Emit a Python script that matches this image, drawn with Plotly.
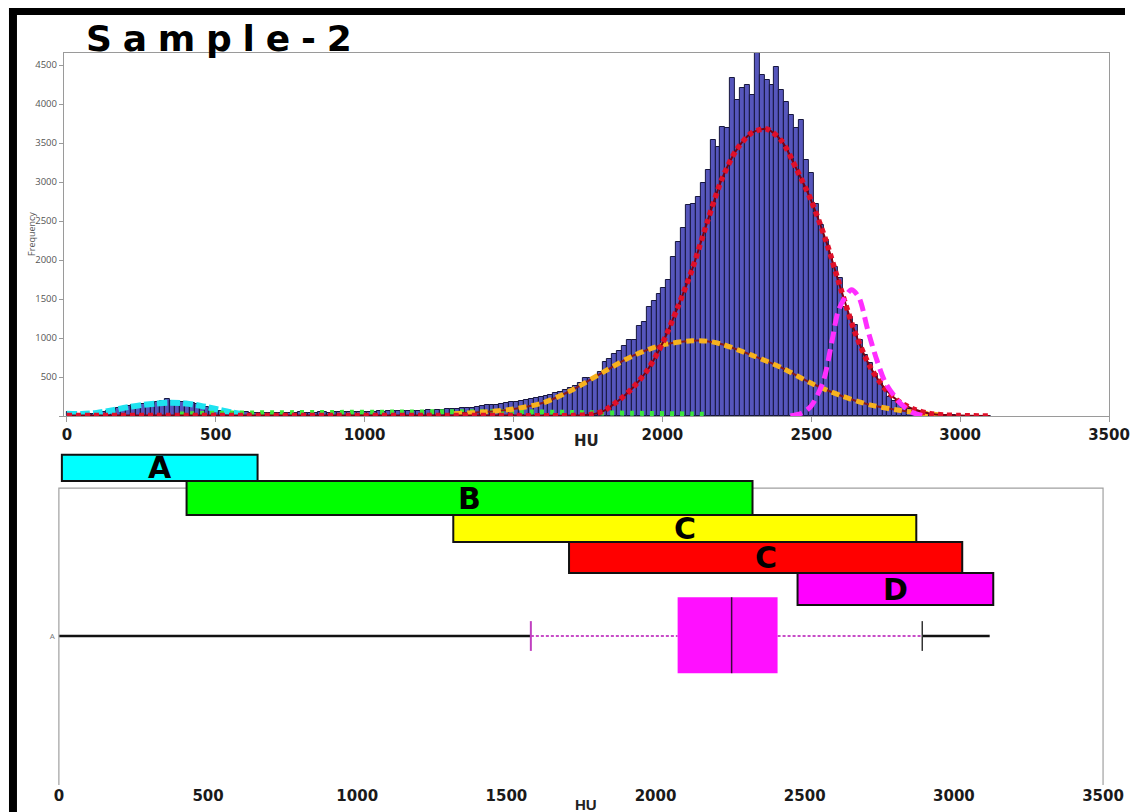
import plotly.graph_objects as go

W, H = 1146, 812
# the page renders the figure about 1125 px wide; horizontal layout positions use that width
W_EFF = 1125

# ---------------- data ----------------
BIN_WIDTH = 16.5          # HU per histogram bin (bins start at 0 HU)
counts = [
    55, 22, 18, 20, 24, 28, 35, 45, 60, 75,
    100, 115, 125, 138, 145, 158, 165, 172, 184, 190,
    214, 195, 186, 180, 184, 168, 152, 128, 110, 80,
    70, 64, 55, 48, 45, 40, 45, 40, 38, 42,
    40, 38, 40, 42, 38, 40, 42, 45, 40, 44,
    42, 45, 48, 44, 46, 50, 48, 52, 50, 55,
    52, 56, 54, 58, 56, 60, 58, 62, 60, 65,
    62, 68, 66, 72, 70, 78, 75, 85, 90, 95,
    100, 100, 104, 112, 125, 140, 138, 146, 150, 165,
    178, 186, 192, 204, 215, 232, 248, 256, 269, 290,
    312, 332, 355, 380, 420, 483, 485, 500, 560, 690,
    730, 800, 830, 900, 980, 975, 1160, 1200, 1400, 1480,
    1560, 1640, 1750, 2040, 2235, 2410, 2705, 2725, 2810, 2985,
    3155, 3540, 3455, 3710, 3690, 4330, 4050, 4200, 4245, 4115,
    4650, 4370, 4310, 4245, 4470, 4180, 4030, 3860, 3690, 3800,
    3280, 3110, 2725, 2450, 2255, 2045, 1915, 1765, 1400, 1275,
    1165, 975, 780, 675, 545, 420, 360, 250, 190, 150,
    110, 85, 65, 48, 36, 28, 20, 15, 12, 9,
    7, 6, 5, 4, 3, 2, 2, 1,
]

# fitted component curves (HU, frequency)
red_hu = [0, 300, 600, 900, 1200, 1500, 1700, 1760, 1800, 1850, 1900, 1950, 2000, 2050,
          2100, 2150, 2200, 2250, 2300, 2350, 2400, 2450, 2500, 2550, 2600, 2650, 2700,
          2750, 2800, 2850, 2900, 2950, 3000, 3100]
red_val = [8, 6, 5, 5, 5, 5, 5, 20, 60, 190, 360, 590, 930, 1380,
           1880, 2480, 3040, 3420, 3630, 3680, 3530, 3170, 2760, 2240, 1620, 1040, 615,
           340, 170, 80, 30, 12, 5, 0]

orange_hu = [1300, 1400, 1500, 1600, 1700, 1800, 1900, 2000, 2100, 2150, 2200, 2300,
             2400, 2500, 2600, 2700, 2800, 2900, 2950]
orange_val = [30, 50, 90, 170, 340, 560, 770, 910, 965, 960, 920, 780,
              620, 420, 260, 140, 70, 25, 10]

green_hu = [380, 500, 700, 900, 1100, 1300, 1500, 1700, 1900, 2100, 2150]
green_val = [25, 35, 42, 46, 50, 55, 55, 45, 35, 25, 20]

cyan_hu = [0, 50, 100, 150, 200, 250, 300, 350, 400, 450, 500, 550, 600]
cyan_val = [30, 25, 40, 70, 110, 140, 160, 170, 160, 130, 90, 50, 20]

magenta_hu = [2430, 2470, 2500, 2540, 2570, 2590, 2610, 2635, 2660, 2690, 2720, 2750,
              2800, 2840, 2880]
magenta_val = [0, 40, 130, 440, 970, 1340, 1500, 1620, 1520, 1100, 720, 420,
               160, 45, 0]

# HU ranges of the phases
band_names = ["A", "B", "C", "C", "D"]
band_start = [10, 428, 1322, 1710, 2476]
band_end = [666, 2325, 2874, 3028, 3132]

# box plot summary (HU)
bp_min, bp_lo, bp_q1, bp_med, bp_q3, bp_hi, bp_max = 0, 1582, 2074, 2255, 2409, 2894, 3120

x_ticks = [0, 500, 1000, 1500, 2000, 2500, 3000, 3500]
y_ticks = [0, 500, 1000, 1500, 2000, 2500, 3000, 3500, 4000, 4500]

title_text = "Sample-2"

# ---------------- styles / layout positions ----------------
band_colors = ["#00FFFF", "#00FF00", "#FFFF00", "#FF0000", "#FF00FF"]
band_rows = [(5.0, 5.85), (3.9, 5.0), (3.03, 3.9), (2.03, 3.03), (1.0, 2.03)]
FRAME_TOP = 4.77
Y2_RANGE = [-4.806, 6.0]


def fx(p):
    return min(p / W_EFF, 1.0)


def fy(p):
    return 1 - p / H


bin_centers = [BIN_WIDTH * (i + 0.5) for i in range(len(counts))]

fig = go.Figure()

# histogram
fig.add_trace(go.Bar(
    x=bin_centers, y=counts, width=BIN_WIDTH,
    marker=dict(color="#5656BC", line=dict(color="#17173F", width=1)),
    xaxis="x", yaxis="y", hoverinfo="skip",
))


def curve(xs, ys, color, width, dash, under=None):
    if under:
        fig.add_trace(go.Scatter(x=xs, y=ys, mode="lines",
                                 line=dict(color=under, width=2, shape="spline", smoothing=0.8),
                                 xaxis="x", yaxis="y", hoverinfo="skip"))
    fig.add_trace(go.Scatter(x=xs, y=ys, mode="lines",
                             line=dict(color=color, width=width, dash=dash, shape="spline",
                                       smoothing=0.8),
                             xaxis="x", yaxis="y", hoverinfo="skip"))


curve(cyan_hu, cyan_val, "#1EE3F0", 6, "10px,3px")
curve(green_hu, green_val, "#3BE53B", 5, "4px,6px")
curve(orange_hu, orange_val, "#F7B21E", 5, "8px,5px", under="#8B1A1A")
curve(red_hu, red_val, "#E0102A", 5.5, "5px,4px", under="#7A0010")
curve(magenta_hu, magenta_val, "#FF2EFF", 5, "12px,6px")

# ---------------- bottom panel ----------------
fig.add_trace(go.Scatter(x=[bp_min, bp_lo], y=[0, 0], mode="lines",
                         line=dict(color="#111111", width=2.5),
                         xaxis="x2", yaxis="y2", hoverinfo="skip"))
fig.add_trace(go.Scatter(x=[bp_hi, bp_max], y=[0, 0], mode="lines",
                         line=dict(color="#111111", width=2.5),
                         xaxis="x2", yaxis="y2", hoverinfo="skip"))
for a, b in [(bp_lo, bp_q1), (bp_q3, bp_hi)]:
    fig.add_trace(go.Scatter(x=[a, b], y=[0, 0], mode="lines",
                             line=dict(color="#C74DC7", width=2, dash="3px,2px"),
                             xaxis="x2", yaxis="y2", hoverinfo="skip"))

shapes = []
# black image border
shapes.append(dict(type="rect", xref="paper", yref="paper", x0=fx(7), x1=fx(15),
                   y0=0, y1=fy(8), fillcolor="black", line=dict(width=0), layer="above"))
shapes.append(dict(type="rect", xref="paper", yref="paper", x0=fx(7), x1=1,
                   y0=fy(15), y1=fy(8), fillcolor="black", line=dict(width=0), layer="above"))
# bottom frame (open at the bottom)
shapes.append(dict(type="path", xref="x2", yref="y2",
                   path=f"M 0,{Y2_RANGE[0]} L 0,{FRAME_TOP} L 3500,{FRAME_TOP} L 3500,{Y2_RANGE[0]}",
                   line=dict(color="#A0A0A0", width=1.2)))
# box
shapes.append(dict(type="rect", xref="x2", yref="y2", x0=bp_q1, x1=bp_q3, y0=-1.2, y1=1.25,
                   fillcolor="#FF10FF", line=dict(width=0)))
shapes.append(dict(type="line", xref="x2", yref="y2", x0=bp_med, x1=bp_med, y0=-1.2, y1=1.25,
                   line=dict(color="#3A0A3A", width=1.5)))
shapes.append(dict(type="line", xref="x2", yref="y2", x0=bp_lo, x1=bp_lo, y0=-0.48, y1=0.48,
                   line=dict(color="#C040C0", width=2)))
shapes.append(dict(type="line", xref="x2", yref="y2", x0=bp_hi, x1=bp_hi, y0=-0.48, y1=0.48,
                   line=dict(color="#333333", width=1.5)))
# phase bands
annotations = []
for name, s, e, c, (r0, r1) in zip(band_names, band_start, band_end, band_colors, band_rows):
    shapes.append(dict(type="rect", xref="x2", yref="y2", x0=s, x1=e, y0=r0, y1=r1,
                       fillcolor=c, line=dict(color="#111111", width=2), layer="above"))
    annotations.append(dict(xref="x2", yref="y2", x=(s + e) / 2, y=(r0 + r1) / 2,
                            xanchor="center", yanchor="middle",
                            text=name, showarrow=False,
                            font=dict(family="DejaVu Sans", size=30, color="black", weight="bold")))

# letter-spaced title (thin + hair spaces) to mimic the wide lettering
spaced_title = "\u2009\u200a".join(title_text)

annotations += [
    dict(xref="paper", yref="paper", x=fx(82), y=fy(61), xanchor="left", yanchor="bottom",
         text=spaced_title, showarrow=False,
         font=dict(family="DejaVu Sans", size=36, color="black", weight="bold")),
    dict(xref="paper", yref="paper", x=fx(30), y=fy(234), xanchor="center", yanchor="middle",
         text="Frequency", textangle=-90,
         showarrow=False, font=dict(family="Open Sans", size=9, color="#555555")),
    dict(xref="x domain", yref="paper", x=0.5, y=fy(441), xanchor="center", yanchor="middle",
         text="HU", showarrow=False,
         font=dict(family="DejaVu Sans", size=15, color="#222222", weight="bold")),
    dict(xref="x2 domain", yref="paper", x=0.505, y=fy(804), xanchor="center", yanchor="middle",
         text="HU", showarrow=False,
         font=dict(family="Liberation Sans", size=15, color="#222222", weight="bold")),
]

fig.update_layout(
    width=W, height=H, margin=dict(l=0, r=0, t=0, b=0),
    paper_bgcolor="white", plot_bgcolor="white", showlegend=False,
    bargap=0, shapes=shapes, annotations=annotations,
    xaxis=dict(domain=[fx(62), fx(1109)], range=[-10, 3500], tickvals=x_ticks,
               showgrid=False, zeroline=False, showline=True, linecolor="#9A9A9A", mirror=True,
               ticks="outside", ticklen=5, tickcolor="#9A9A9A",
               tickfont=dict(family="DejaVu Sans", size=15, color="#1A1A1A", weight="bold")),
    yaxis=dict(domain=[fy(416), fy(53)], range=[0, 4655], tickvals=y_ticks,
               ticktext=[""] + [str(v) for v in y_ticks[1:]],
               showgrid=False, zeroline=False, showline=True, linecolor="#9A9A9A", mirror=True,
               ticks="outside", ticklen=4, tickcolor="#9A9A9A",
               tickfont=dict(family="Open Sans", size=9.5, color="#555555")),
    xaxis2=dict(domain=[fx(54), fx(1106)], range=[-10, 3510], tickvals=x_ticks, anchor="y2",
                showgrid=False, zeroline=False, showline=False, ticks="",
                tickfont=dict(family="DejaVu Sans", size=15, color="#1A1A1A", weight="bold")),
    yaxis2=dict(domain=[fy(785), fy(450)], range=Y2_RANGE, anchor="x2", tickvals=[0],
                ticktext=["A"], showgrid=False, zeroline=False, showline=False, ticks="",
                tickfont=dict(family="Open Sans", size=8, color="#777777")),
)

fig.write_html("out.html")
